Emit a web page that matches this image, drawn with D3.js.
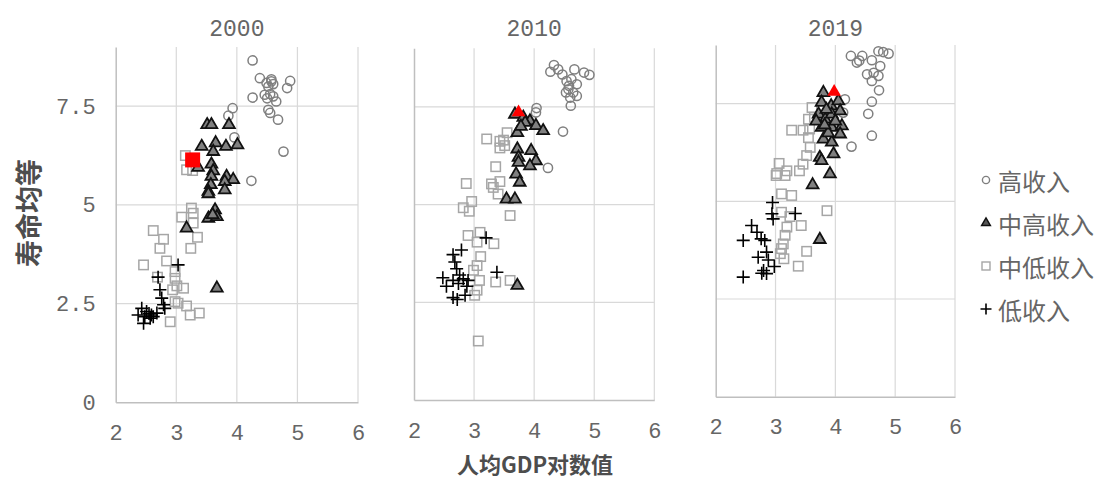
<!DOCTYPE html>
<html>
<head>
<meta charset="utf-8">
<script src="https://cdn.jsdelivr.net/npm/d3@7/dist/d3.min.js"></script>
<style>
  html, body { margin: 0; padding: 0; background: #fff; }
  svg { display: block; }
</style>
</head>
<body>
<svg id="chart" width="1105" height="480"></svg>
<script>
// ---- data: [log GDP per capita, life-expectancy equality] by income group ----
const years = ["2000", "2010", "2019"];
const groupNames = ["高收入", "中高收入", "中低收入", "低收入"];
const xTicks = [2, 3, 4, 5, 6];
const yTicks = [0, 2.5, 5, 7.5];
const yTickLabels = ["0", "2.5", "5", "7.5"];

const high2000 = [[4.26,8.66],[4.38,8.21],[4.49,8.09],[4.57,8.13],[4.60,8.06],[4.52,8.00],[4.88,8.14],[4.83,7.96],[4.26,7.72],[4.46,7.79],[4.55,7.81],[4.60,7.75],[4.65,7.62],[4.52,7.41],[4.55,7.33],[4.68,7.16],[3.93,7.45],[3.86,7.26],[3.96,6.71],[4.77,6.35],[4.24,5.61],[4.57,8.18],[4.50,7.70]];
const umid2000 = [[3.51,7.03],[3.58,7.03],[3.87,7.03],[3.42,6.48],[3.65,6.57],[3.82,6.48],[4.01,6.52],[3.61,6.35],[3.36,5.95],[3.58,6.03],[3.61,5.86],[3.58,5.72],[3.83,5.72],[3.94,5.64],[3.80,5.59],[3.57,5.51],[3.53,5.34],[3.80,5.38],[3.53,5.28],[3.64,4.87],[3.53,4.66],[3.67,4.70],[3.60,4.75],[3.17,4.41],[3.67,2.89]];
const lmid2000 = [[3.25,4.92],[3.28,4.79],[3.09,4.69],[3.28,4.54],[2.62,4.35],[2.79,4.13],[3.35,4.18],[2.73,3.90],[3.24,3.90],[2.46,3.48],[2.84,3.58],[2.98,3.31],[2.69,3.17],[2.98,3.14],[3.01,2.95],[2.94,2.85],[3.12,2.89],[2.98,2.55],[3.03,2.51],[3.17,2.44],[3.23,2.21],[3.38,2.26],[2.90,2.04],[3.17,5.89],[3.27,5.87],[3.15,6.25]];
const low2000 = [[3.03,3.48],[2.70,3.17],[2.73,2.85],[2.76,2.64],[2.79,2.47],[2.43,2.38],[2.51,2.30],[2.59,2.21],[2.68,2.26],[2.48,2.17],[2.57,2.13],[2.46,2.00],[2.81,2.38],[2.62,2.17],[2.37,2.21],[2.55,2.25]];
const china2000 = [3.27, 6.14];

const high2010 = [[4.33,8.57],[4.27,8.40],[4.40,8.46],[4.47,8.33],[4.67,8.46],[4.83,8.38],[4.92,8.32],[4.54,8.16],[4.62,8.21],[4.71,8.08],[4.58,8.04],[4.53,7.87],[4.65,7.87],[4.71,7.78],[4.60,7.74],[4.61,7.53],[4.04,7.47],[4.03,7.36],[4.48,6.87],[4.23,5.94],[4.57,7.95]];
const umid2010 = [[3.68,7.31],[3.82,7.23],[3.93,7.14],[4.03,7.02],[4.15,6.89],[3.72,6.84],[3.72,6.42],[3.95,6.38],[3.74,6.21],[4.03,6.12],[3.93,5.99],[3.74,6.08],[3.70,5.78],[3.76,5.57],[3.54,5.14],[3.68,5.14],[3.72,2.93],[3.85,7.10],[3.78,7.00]];
const lmid2010 = [[3.55,6.84],[3.21,6.68],[3.43,6.62],[3.49,6.65],[3.43,6.45],[3.51,6.51],[3.36,5.97],[3.29,5.53],[3.32,5.44],[3.43,5.59],[2.87,5.54],[3.40,5.27],[2.96,5.08],[2.82,4.92],[2.92,4.83],[3.60,4.72],[3.10,4.29],[2.90,4.21],[3.05,4.04],[3.33,4.00],[3.11,3.67],[3.05,3.44],[2.99,3.32],[3.09,3.06],[3.36,3.02],[3.60,3.06],[3.05,2.81],[3.01,2.68],[3.07,1.51]];
const low2010 = [[3.20,4.15],[2.79,3.84],[2.65,3.72],[2.68,3.53],[2.71,3.36],[3.38,3.27],[2.48,3.13],[2.65,3.06],[2.82,3.10],[2.90,3.06],[2.54,2.91],[2.74,2.98],[2.88,2.91],[2.65,2.62],[2.72,2.57],[2.85,2.68],[2.76,3.20]];
const china2010 = [3.74, 7.36];

const high2019 = [[4.26,8.72],[4.36,8.55],[4.45,8.72],[4.72,8.84],[4.89,8.78],[4.61,8.61],[4.75,8.46],[4.53,8.25],[4.64,8.29],[4.72,8.21],[4.61,8.08],[4.73,7.84],[4.61,7.55],[4.16,7.61],[4.55,7.24],[4.61,6.68],[4.27,6.40],[4.13,7.27],[4.80,8.82],[4.40,8.60]];
const umid2019 = [[3.80,7.78],[3.77,7.53],[3.93,7.44],[4.05,7.57],[3.72,7.23],[3.83,7.10],[3.94,7.23],[4.08,7.31],[3.77,6.89],[3.94,6.89],[4.11,6.93],[4.08,6.72],[3.80,6.59],[3.94,6.51],[3.74,6.12],[3.97,6.21],[3.91,5.70],[3.77,6.04],[3.62,5.42],[3.74,4.02],[3.85,7.35],[3.68,7.05],[3.88,6.75],[4.00,7.05],[3.82,6.95]];
const lmid2019 = [[3.27,6.82],[3.46,6.82],[3.57,6.85],[3.61,7.40],[3.55,6.63],[3.58,6.38],[3.52,6.17],[3.46,5.95],[3.40,5.78],[3.06,5.97],[3.01,5.66],[3.16,5.66],[3.19,5.78],[3.10,5.19],[3.27,5.15],[3.86,4.76],[3.10,4.72],[3.24,4.61],[3.43,4.38],[3.19,4.34],[3.16,4.13],[3.13,3.91],[3.10,3.79],[3.52,3.72],[3.08,3.66],[3.14,3.53],[3.38,3.34],[3.55,7.10],[3.65,7.15],[3.02,5.71]];
const low2019 = [[2.95,4.97],[2.94,4.68],[2.96,4.55],[3.33,4.69],[2.60,4.38],[2.69,4.21],[2.76,4.04],[2.82,4.00],[2.46,4.00],[2.85,3.70],[2.71,3.57],[2.88,3.50],[2.98,3.33],[2.80,3.23],[2.85,3.15],[2.77,3.16],[2.46,3.06]];
const china2019 = [3.98, 7.80];

const seriesByYear = {
  "2000": { high: high2000, umid: umid2000, lmid: lmid2000, low: low2000, china: china2000, chinaShape: "square" },
  "2010": { high: high2010, umid: umid2010, lmid: lmid2010, low: low2010, china: china2010, chinaShape: "triangle" },
  "2019": { high: high2019, umid: umid2019, lmid: lmid2019, low: low2019, china: china2019, chinaShape: "triangle" }
};

// ---- layout ----
const panelBoxes = [
  { left: 115.7, right: 358, bottom: 402.3, top: 47, showY: true },
  { left: 414, right: 654.3, bottom: 400, top: 48.3, showY: false },
  { left: 715.7, right: 955, bottom: 396.7, top: 45, showY: false }
];
const tickFont = "'Liberation Mono', 'DejaVu Sans Mono', monospace";
const cjkFont = "'Noto Sans CJK SC', 'Noto Sans', sans-serif";
const textGrey = "#666666";
const gridGrey = "#d9d9d9";
const axisGrey = "#bfbfbf";

const svg = d3.select("#chart");

const tri = d3.symbol().type(d3.symbolTriangle);
const plusPath = s => `M${-s},0H${s}M0,${-s}V${s}`;

years.forEach((yr, i) => {
  const box = panelBoxes[i];
  const data = seriesByYear[yr];
  const x = d3.scaleLinear().domain([2, 6]).range([box.left, box.right]);
  const y = d3.scaleLinear().domain([0, 9]).range([box.bottom, box.top]);
  const g = svg.append("g");

  // horizontal gridlines
  g.selectAll(".hgrid").data(yTicks.filter(v => v > 0)).join("line")
    .attr("x1", x(2)).attr("x2", x(6))
    .attr("y1", d => y(d)).attr("y2", d => y(d))
    .attr("stroke", gridGrey).attr("stroke-width", 1.2);
  // vertical gridlines
  g.selectAll(".vgrid").data(xTicks.filter(v => v > 2)).join("line")
    .attr("x1", d => x(d)).attr("x2", d => x(d))
    .attr("y1", y(0)).attr("y2", y(9))
    .attr("stroke", gridGrey).attr("stroke-width", 1.2);

  // axes
  const xAxis = d3.axisBottom(x).tickValues(xTicks).tickSize(0).tickPadding(22).tickFormat(d3.format("d"));
  const xg = g.append("g").attr("transform", `translate(0,${y(0)})`).call(xAxis);
  xg.select(".domain").attr("stroke", axisGrey).attr("stroke-width", 1.5);
  xg.selectAll("text").attr("font-family", tickFont).attr("font-size", 22).attr("fill", textGrey);

  const yAxis = d3.axisLeft(y).tickValues(yTicks).tickSize(0).tickPadding(20)
    .tickFormat((d, k) => box.showY ? yTickLabels[k] : "");
  const yg = g.append("g").attr("transform", `translate(${x(2)},0)`).call(yAxis);
  yg.select(".domain").attr("stroke", axisGrey).attr("stroke-width", 1.5);
  yg.selectAll("text").attr("font-family", tickFont).attr("font-size", 22).attr("fill", textGrey);

  // panel title
  g.append("text").attr("x", (x(2) + x(6)) / 2).attr("y", 36)
    .attr("text-anchor", "middle").attr("font-family", tickFont)
    .attr("font-size", 23).attr("fill", textGrey).text(yr);

  // high income: open circles
  g.selectAll(".hi").data(data.high).join("circle")
    .attr("cx", d => x(d[0])).attr("cy", d => y(d[1])).attr("r", 4.6)
    .attr("fill", "none").attr("stroke", "#7f7f7f").attr("stroke-width", 1.5);
  // lower-middle income: open squares
  g.selectAll(".lm").data(data.lmid).join("rect")
    .attr("x", d => x(d[0]) - 4.7).attr("y", d => y(d[1]) - 4.7)
    .attr("width", 9.4).attr("height", 9.4)
    .attr("fill", "none").attr("stroke", "#a6a6a6").attr("stroke-width", 1.5);
  // upper-middle income: grey triangles with black outline
  g.selectAll(".um").data(data.umid).join("path")
    .attr("transform", d => `translate(${x(d[0])},${y(d[1])})`)
    .attr("d", tri.size(60)())
    .attr("fill", "#808080").attr("stroke", "#111").attr("stroke-width", 1.8);
  // low income: plus signs
  g.selectAll(".lo").data(data.low).join("path")
    .attr("transform", d => `translate(${x(d[0])},${y(d[1])})`)
    .attr("d", plusPath(6.5))
    .attr("fill", "none").attr("stroke", "#000").attr("stroke-width", 1.6);

  // China highlighted in red
  const c = data.china;
  if (data.chinaShape === "square") {
    g.append("rect").attr("x", x(c[0]) - 7.5).attr("y", y(c[1]) - 7.5)
      .attr("width", 15).attr("height", 15).attr("fill", "#ff0000");
  } else {
    g.append("path").attr("transform", `translate(${x(c[0])},${y(c[1])})`)
      .attr("d", d3.symbol().type(d3.symbolTriangle).size(80)())
      .attr("fill", "#ff0000");
  }
});

// axis titles
svg.append("text")
  .attr("transform", "translate(27,213) rotate(-90)")
  .attr("text-anchor", "middle").attr("dominant-baseline", "central")
  .attr("font-family", cjkFont).attr("font-size", 27).attr("font-weight", "bold")
  .attr("fill", "#4d4d4d").text("寿命均等");

svg.append("text")
  .attr("x", 535).attr("y", 473).attr("text-anchor", "middle")
  .attr("font-family", cjkFont).attr("font-size", 22).attr("font-weight", "bold")
  .attr("fill", "#4d4d4d").text("人均GDP对数值");

// legend
const legend = svg.append("g");
groupNames.forEach((name, k) => {
  const cy = 180 + k * 43;
  const lg = legend.append("g").attr("transform", `translate(986,${cy})`);
  if (k === 0) {
    lg.append("circle").attr("r", 3.6).attr("fill", "none").attr("stroke", "#7f7f7f").attr("stroke-width", 1.4);
  } else if (k === 1) {
    lg.append("path").attr("d", d3.symbol().type(d3.symbolTriangle).size(34)())
      .attr("fill", "#555").attr("stroke", "#111").attr("stroke-width", 1.4);
  } else if (k === 2) {
    lg.append("rect").attr("x", -4).attr("y", -4).attr("width", 8).attr("height", 8)
      .attr("fill", "none").attr("stroke", "#a6a6a6").attr("stroke-width", 1.4);
  } else {
    lg.append("path").attr("d", plusPath(5.5)).attr("stroke", "#000").attr("stroke-width", 1.6);
  }
  legend.append("text").attr("x", 998).attr("y", cy).attr("dominant-baseline", "central")
    .attr("font-family", cjkFont).attr("font-size", 24).attr("fill", textGrey).text(name);
});
</script>
</body>
</html>
